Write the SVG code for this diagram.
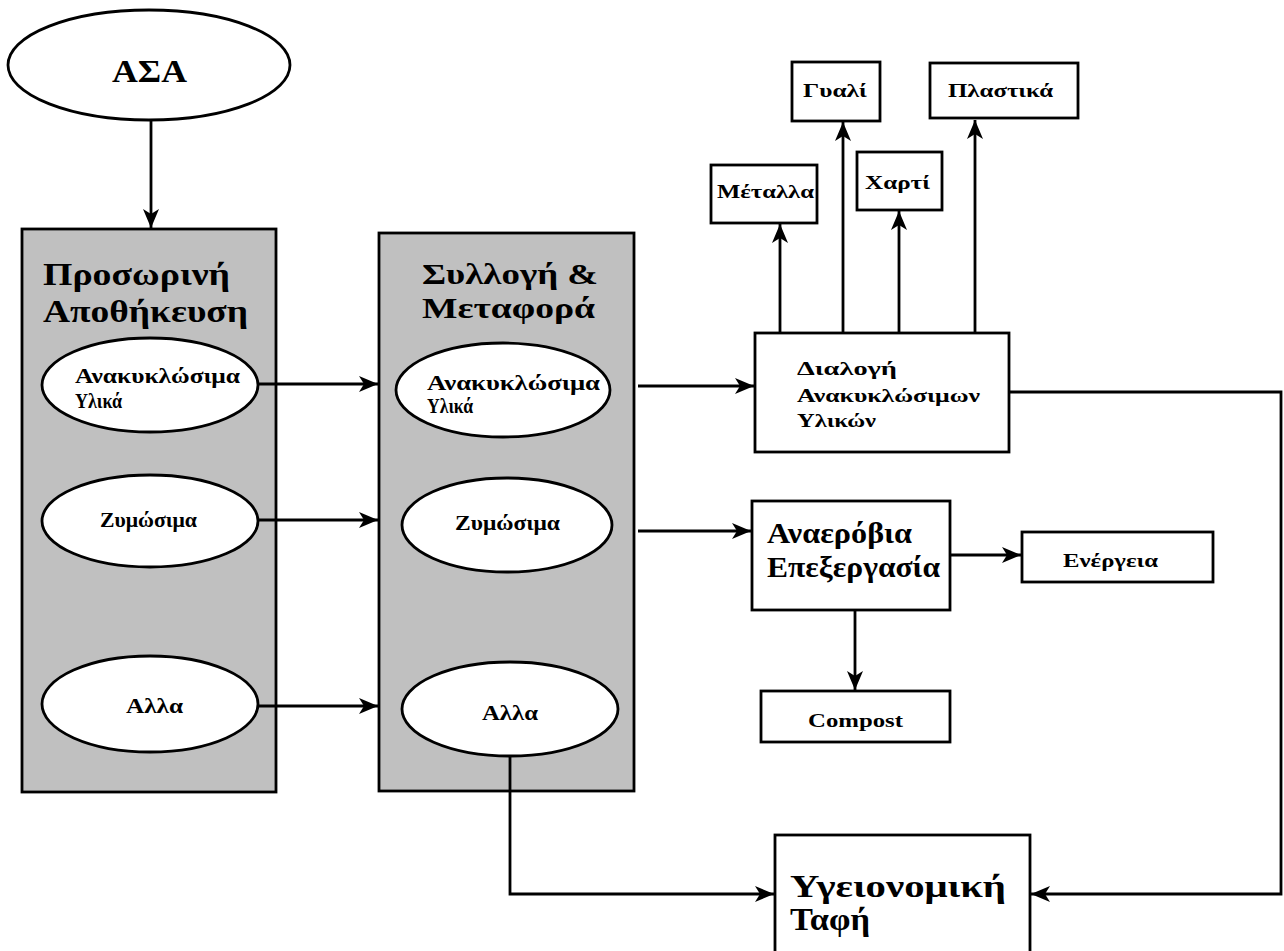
<svg xmlns="http://www.w3.org/2000/svg" width="1284" height="951" viewBox="0 0 1284 951">
<style>
.bg{fill:#ffffff}
.panel{fill:#c0c0c0;stroke:#000;stroke-width:2.8}
.ell{fill:#ffffff;stroke:#000;stroke-width:2.8}
.box{fill:#ffffff;stroke:#000;stroke-width:2.8}
.line{fill:none;stroke:#000;stroke-width:2.8}
text{font-weight:bold;fill:#000}
.t1{font-size:31px}
.t2{font-size:30px}
.t2b{font-size:32px}
.t3{font-size:21px}
.t4{font-size:19px}
.t5{font-size:29px}
</style>
<defs>
<marker id="arr" markerUnits="userSpaceOnUse" markerWidth="22" markerHeight="18" refX="19" refY="8" orient="auto">
<path d="M0,0 L19,8 L0,16 L5,8 z" fill="#000"/>
</marker>
</defs>
<rect class="bg" x="0" y="0" width="1284" height="951"/>
<g font-family="'Liberation Serif', 'DejaVu Serif', serif">

<g id="asa">
<ellipse class="ell" cx="149" cy="65" rx="141" ry="55"/>
<text class="t1" x="112" y="82" textLength="75" lengthAdjust="spacingAndGlyphs">ΑΣΑ</text>
</g>

<g id="panel-storage">
<rect class="panel" x="22" y="229" width="254" height="563"/>
<text class="t2b" x="43" y="285" textLength="187" lengthAdjust="spacingAndGlyphs">Προσωρινή</text>
<text class="t2b" x="43" y="322" textLength="205" lengthAdjust="spacingAndGlyphs">Αποθήκευση</text>
</g>
<g id="s-recycl">
<ellipse class="ell" cx="150" cy="385" rx="108" ry="47"/>
<text class="t3" x="75" y="383" textLength="165" lengthAdjust="spacingAndGlyphs">Ανακυκλώσιμα</text>
<text class="t3" x="75" y="408" textLength="47" lengthAdjust="spacingAndGlyphs">Υλικά</text>
</g>
<g id="s-ferm">
<ellipse class="ell" cx="150" cy="521" rx="108" ry="46"/>
<text class="t3" x="100" y="527" textLength="97" lengthAdjust="spacingAndGlyphs">Ζυμώσιμα</text>
</g>
<g id="s-other">
<ellipse class="ell" cx="150" cy="704" rx="108" ry="48"/>
<text class="t3" x="126" y="713" textLength="57" lengthAdjust="spacingAndGlyphs">Αλλα</text>
</g>

<g id="panel-collection">
<rect class="panel" x="379" y="233" width="255" height="558"/>
<text class="t2" x="422" y="284" textLength="176" lengthAdjust="spacingAndGlyphs">Συλλογή &amp;</text>
<text class="t2" x="422" y="318" textLength="173" lengthAdjust="spacingAndGlyphs">Μεταφορά</text>
</g>
<g id="c-recycl">
<ellipse class="ell" cx="503" cy="390" rx="107" ry="47"/>
<text class="t3" x="427" y="390" textLength="173" lengthAdjust="spacingAndGlyphs">Ανακυκλώσιμα</text>
<text class="t3" x="427" y="413" textLength="46" lengthAdjust="spacingAndGlyphs">Υλικά</text>
</g>
<g id="c-ferm">
<ellipse class="ell" cx="507" cy="525" rx="105" ry="47"/>
<text class="t3" x="455" y="530" textLength="105" lengthAdjust="spacingAndGlyphs">Ζυμώσιμα</text>
</g>
<g id="c-other">
<ellipse class="ell" cx="510" cy="709" rx="108" ry="47"/>
<text class="t3" x="482" y="720" textLength="56" lengthAdjust="spacingAndGlyphs">Αλλα</text>
</g>

<g id="sorting">
<rect class="box" x="755" y="333" width="254" height="119"/>
<text class="t4" x="797" y="375" textLength="100" lengthAdjust="spacingAndGlyphs">Διαλογή</text>
<text class="t4" x="797" y="402" textLength="183" lengthAdjust="spacingAndGlyphs">Ανακυκλώσιμων</text>
<text class="t4" x="797" y="427" textLength="79" lengthAdjust="spacingAndGlyphs">Υλικών</text>
</g>
<g id="metals">
<rect class="box" x="711" y="165" width="106" height="58"/>
<text class="t4" x="717" y="198" textLength="97" lengthAdjust="spacingAndGlyphs">Μέταλλα</text>
</g>
<g id="glass">
<rect class="box" x="792" y="62" width="88" height="59"/>
<text class="t4" x="803" y="97" textLength="64" lengthAdjust="spacingAndGlyphs">Γυαλί</text>
</g>
<g id="paper">
<rect class="box" x="857" y="152" width="85" height="58"/>
<text class="t4" x="865" y="189" textLength="65" lengthAdjust="spacingAndGlyphs">Χαρτί</text>
</g>
<g id="plastics">
<rect class="box" x="930" y="63" width="148" height="55"/>
<text class="t4" x="948" y="97" textLength="105" lengthAdjust="spacingAndGlyphs">Πλαστικά</text>
</g>

<g id="anaerobic">
<rect class="box" x="752" y="501" width="198" height="109"/>
<text class="t5" x="767" y="543" textLength="145" lengthAdjust="spacingAndGlyphs">Αναερόβια</text>
<text class="t5" x="767" y="577" textLength="173" lengthAdjust="spacingAndGlyphs">Επεξεργασία</text>
</g>
<g id="energy">
<rect class="box" x="1022" y="532" width="191" height="50"/>
<text class="t4" x="1063" y="567" textLength="95" lengthAdjust="spacingAndGlyphs">Ενέργεια</text>
</g>
<g id="compost">
<rect class="box" x="761" y="691" width="189" height="51"/>
<text class="t4" x="808" y="727" textLength="95" lengthAdjust="spacingAndGlyphs">Compost</text>
</g>

<g id="landfill">
<rect class="box" x="775" y="835" width="255" height="130"/>
<text class="t2b" x="790" y="897" textLength="216" lengthAdjust="spacingAndGlyphs">Υγειονομική</text>
<text class="t2b" x="790" y="930" textLength="80" lengthAdjust="spacingAndGlyphs">Ταφή</text>
</g>
</g>

<g id="connectors">
<path class="line" d="M151,120 V228" marker-end="url(#arr)"/>
<path class="line" d="M258,384 H378" marker-end="url(#arr)"/>
<path class="line" d="M258,520 H378" marker-end="url(#arr)"/>
<path class="line" d="M258,706 H378" marker-end="url(#arr)"/>
<path class="line" d="M638,386 H754" marker-end="url(#arr)"/>
<path class="line" d="M638,531 H751" marker-end="url(#arr)"/>
<path class="line" d="M780,333 V224" marker-end="url(#arr)"/>
<path class="line" d="M843,333 V122" marker-end="url(#arr)"/>
<path class="line" d="M899,333 V211" marker-end="url(#arr)"/>
<path class="line" d="M975,333 V120" marker-end="url(#arr)"/>
<path class="line" d="M950,555 H1021" marker-end="url(#arr)"/>
<path class="line" d="M855,610 V690" marker-end="url(#arr)"/>
<path class="line" d="M510,756 V894 H774" marker-end="url(#arr)"/>
<path class="line" d="M1009,392 H1281 V894 H1031" marker-end="url(#arr)"/>
</g>
</svg>
